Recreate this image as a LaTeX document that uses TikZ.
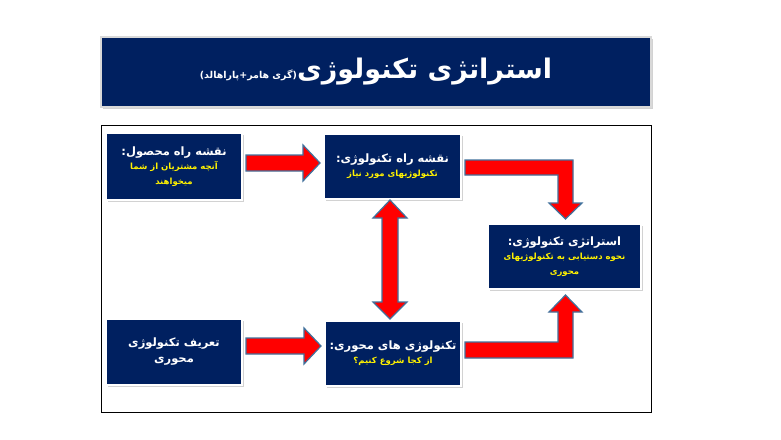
\documentclass[tikz,border=0pt]{standalone}
\usepackage{fontspec}
\usetikzlibrary{calc,shadows}
\TeXXeTstate=1
\newfontfamily\fa[Script=Arabic]{DejaVu Sans}
\definecolor{navy}{RGB}{0,32,96}
\definecolor{arrowblue}{RGB}{65,113,156}
\newcommand{\whl}[1]{{\fontsize{11.5}{14}\selectfont\beginR #1\endR}}
\newcommand{\yll}[1]{{\color{yellow}\fontsize{8.5}{11}\selectfont\beginR #1\endR}}
\begin{document}
\begin{tikzpicture}[x=1pt,y=-1pt,
  box/.style={draw=white, line width=2pt, fill=navy, inner sep=2pt, align=center,
    font=\fa\bfseries, text=white,
    drop shadow={opacity=0.35, shadow xshift=1.5pt, shadow yshift=-1.5pt}},
  titlebox/.style={draw=gray!30, line width=1.2pt, fill=navy, inner sep=0pt,
    font=\fa\bfseries, text=white, minimum width=550pt, minimum height=70pt,
    drop shadow={opacity=0.35, shadow xshift=1.5pt, shadow yshift=-1.5pt}},
  blk/.style={fill=red, draw=arrowblue, line width=1.2pt, line join=miter}]
\useasboundingbox (0,0) rectangle (781,439);
\fill[white] (0,0) rectangle (781,439);

% title
\node[titlebox] (T) at (376,72)
  {\fontsize{27}{30}\selectfont\beginR استراتژی تکنولوژی{\fontsize{9.5}{10}\selectfont(گری هامر+پاراهالد)}\endR};

% frame
\draw[black, line width=0.8pt] (101,125) rectangle (651,412);

% boxes
\node[box, minimum width=136pt, minimum height=67pt] (A) at (174,166.5)
  {\whl{نقشه راه محصول:}\\[2pt]\yll{آنچه مشتریان از شما}\\[3pt]\yll{میخواهند}};
\node[box, minimum width=137pt, minimum height=65pt] (B) at (392.5,166.5)
  {\whl{نقشه راه تکنولوژی:}\\[2pt]\yll{تکنولوژیهای مورد نیاز}};
\node[box, minimum width=153pt, minimum height=65pt] (C) at (564.5,256.5)
  {\whl{استراتژی تکنولوژی:}\\[2pt]\yll{نحوه دستیابی به تکنولوژیهای}\\[3pt]\yll{محوری}};
\node[box, minimum width=136pt, minimum height=66pt] (D) at (174,352)
  {\whl{تعریف تکنولوژی}\\[4pt]\whl{محوری}};
\node[box, minimum width=136pt, minimum height=65pt] (E) at (393,353.5)
  {\whl{تکنولوژی های محوری:}\\[2pt]\yll{از کجا شروع کنیم؟}};

% A -> B
\draw[blk] let \p1=(A.east), \p2=(B.west) in
  (\x1+3pt,\y1+11.5pt) -- (\x2-20pt,\y1+11.5pt) -- (\x2-20pt,\y1+21.5pt)
  -- (\x2-3pt,\y1+3.5pt) -- (\x2-20pt,\y1-14.5pt) -- (\x2-20pt,\y1-4.5pt)
  -- (\x1+3pt,\y1-4.5pt) -- cycle;
% D -> E
\draw[blk] let \p1=(D.east), \p2=(E.west) in
  (\x1+3pt,\y1+14pt) -- (\x2-20pt,\y1+14pt) -- (\x2-20pt,\y1+24pt)
  -- (\x2-3pt,\y1+6pt) -- (\x2-20pt,\y1-12pt) -- (\x2-20pt,\y1-2pt)
  -- (\x1+3pt,\y1-2pt) -- cycle;
% B <-> E
\draw[blk] let \p1=(B.south), \p2=(E.north) in
  (\x1-2.5pt,\y1) -- (\x1+14.5pt,\y1-18pt) -- (\x1+5.5pt,\y1-18pt)
  -- (\x1+5.5pt,\y2+18pt) -- (\x1+14.5pt,\y2+18pt) -- (\x1-2.5pt,\y2+1pt)
  -- (\x1-19.5pt,\y2+18pt) -- (\x1-10.5pt,\y2+18pt) -- (\x1-10.5pt,\y1-18pt)
  -- (\x1-19.5pt,\y1-18pt) -- cycle;
% B -> C
\draw[blk] let \p1=(B.east), \p2=(C.north) in
  (\x1+3pt,\y1+6.5pt) -- (\x2+8.5pt,\y1+6.5pt) -- (\x2+8.5pt,\y2+20pt)
  -- (\x2+17.5pt,\y2+20pt) -- (\x2+1pt,\y2+4pt) -- (\x2-15.5pt,\y2+20pt)
  -- (\x2-6.5pt,\y2+20pt) -- (\x2-6.5pt,\y1-8.5pt) -- (\x1+3pt,\y1-8.5pt) -- cycle;
% E -> C
\draw[blk] let \p1=(E.east), \p2=(C.south) in
  (\x1+3pt,\y1-4.5pt) -- (\x2+8.5pt,\y1-4.5pt) -- (\x2+8.5pt,\y2-22pt)
  -- (\x2+17.5pt,\y2-22pt) -- (\x2+1pt,\y2-5pt) -- (\x2-15.5pt,\y2-22pt)
  -- (\x2-6.5pt,\y2-22pt) -- (\x2-6.5pt,\y1+11.5pt) -- (\x1+3pt,\y1+11.5pt) -- cycle;
\end{tikzpicture}
\end{document}
